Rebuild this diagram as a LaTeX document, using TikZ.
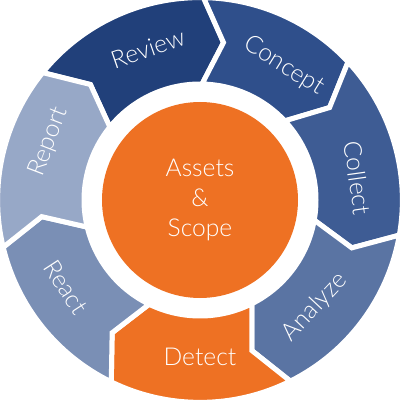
\documentclass[tikz,border=0pt]{standalone}
\usepackage{fontspec}
\setmainfont{Lato Light}
\definecolor{revblue}{RGB}{33,64,122}
\definecolor{conblue}{RGB}{47,79,139}
\definecolor{colblue}{RGB}{62,92,148}
\definecolor{anablue}{RGB}{90,116,163}
\definecolor{reablue}{RGB}{122,143,181}
\definecolor{repblue}{RGB}{151,168,199}
\definecolor{detorange}{RGB}{238,113,35}
\newcommand{\rout}{5.06}
\newcommand{\rin}{2.9}
\newcommand{\rmid}{3.98}
\newcommand{\tip}{7.5}
% one chevron of the ring: colour, start angle, end angle
\newcommand{\ringpart}[3]{%
  \path[seg,fill=#1] (#2:\rout) arc[start angle=#2,end angle=#3,radius=\rout]
    -- ({#3-\tip}:\rmid) -- (#3:\rin) arc[start angle=#3,end angle=#2,radius=\rin]
    -- ({#2-\tip}:\rmid) -- cycle;}
\tikzset{
  seg/.style={draw=white,line width=1.25mm,line join=miter},
  lbl/.style={text=white,font=\fontsize{17.5}{21.5}\selectfont,inner sep=0pt}
}
\begin{document}
\begin{tikzpicture}
      \useasboundingbox (-5,-5.25) rectangle (5,5);
      \ringpart{revblue}{141}{89}
      \ringpart{conblue}{89}{43}
      \ringpart{colblue}{43}{-10}
      \ringpart{anablue}{-10}{-63.5}
      \ringpart{detorange}{-63.5}{-116}
      \ringpart{reablue}{-116}{-166.5}
      \ringpart{repblue}{193.5}{141}
      \node[lbl,rotate=19]  (review)  at (109:4) {Review};
      \node[lbl,rotate=-32] (concept) at (58:3.95) {Concept};
      \node[lbl,rotate=-82] (collect) at (8:3.98) {Collect};
      \node[lbl,rotate=47]  (analyze) at (-43:3.93) {Analyze};
      \node[lbl]            (detect)  at (-90:3.92) {Detect};
      \node[lbl,rotate=-57] (react)   at (-147:4) {React};
      \node[lbl,rotate=69]  (report)  at (159:4.05) {Report};
      \node[circle,fill=detorange,minimum size=4.9cm,lbl,align=center] (scope) at (0,0)
        {Assets\\\&\\Scope};
\end{tikzpicture}
\end{document}
